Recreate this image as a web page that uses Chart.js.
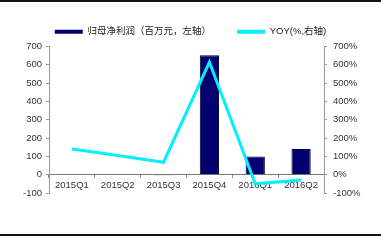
<!DOCTYPE html>
<html><head><meta charset="utf-8">
<script src="https://cdn.jsdelivr.net/npm/chart.js@4.4.0/dist/chart.umd.min.js"></script>
<style>
html,body{margin:0;padding:0;background:#fff;}
#wrap{position:relative;width:381px;height:240px;overflow:hidden;}
.rule{position:absolute;left:0;width:381px;height:2px;background:#111;}
canvas{display:block;}
</style></head><body>
<div id="wrap"><canvas id="c" width="381" height="240"></canvas><div class="rule" style="top:0"></div><div class="rule" style="top:234px"></div></div>
<script>
const categories = ['2015Q1','2015Q2','2015Q3','2015Q4','2016Q1','2016Q2'];
const netProfit = [3, 3, -4, 652, 100, 140];
const yoyPct = [140, 105, 68, 615, -50, -29];
const seriesNames = ['归母净利润（百万元，左轴）', 'YOY(%,右轴)'];
const axisMin = -100, axisMax = 700, axisStep = 100;

const FONT = '"Liberation Sans", Arial, "Noto Sans CJK SC", sans-serif';
const NAVY = '#000070', CYAN = '#00f0ff';

new Chart(document.getElementById('c'), {
  data: {
    labels: categories,
    datasets: [
      { type: 'bar', label: seriesNames[0], data: netProfit, yAxisID: 'y',
        backgroundColor: NAVY, borderColor: '#000030', borderWidth: 1,
        barPercentage: 0.42, categoryPercentage: 1, order: 1, legendColor: NAVY },
      { type: 'line', label: seriesNames[1], data: yoyPct, yAxisID: 'y1',
        borderColor: CYAN, backgroundColor: CYAN, borderWidth: 3, pointRadius: 0,
        tension: 0, order: 0, legendColor: CYAN }
    ]
  },
  options: {
    responsive: false, animation: false,
    layout: { padding: { top: 1, bottom: 47, left: 0, right: 0 } },
    plugins: {
      tooltip: { enabled: false },
      legend: {
        position: 'top',
        labels: {
          font: { family: FONT, size: 9.5 }, color: '#222',
          boxWidth: 28, boxHeight: 4, padding: 26,
          sort: (a, b) => a.datasetIndex - b.datasetIndex,
          generateLabels: (chart) => chart.data.datasets.map((ds, i) => ({
            text: ds.label, fillStyle: ds.legendColor, strokeStyle: ds.legendColor,
            lineWidth: 0, hidden: false, datasetIndex: i, fontColor: '#222'
          }))
        }
      }
    },
    scales: {
      x: {
        position: { y: 0 },
        grid: { display: true, drawOnChartArea: false, drawTicks: true, tickLength: 3, color: '#888', offset: true },
        border: { display: true, color: '#777', width: 1 },
        ticks: { font: { family: FONT, size: 9.5 }, color: '#333', padding: 2, maxRotation: 0, autoSkip: false }
      },
      y: {
        position: 'left', min: axisMin, max: axisMax,
        afterFit: (s) => { s.width = 49; },
        grid: { display: true, drawOnChartArea: false, drawTicks: true, tickLength: 3, color: '#999' },
        border: { display: true, color: '#999', width: 1 },
        ticks: { stepSize: axisStep, font: { family: FONT, size: 9.5 }, color: '#333', padding: 4 }
      },
      y1: {
        position: 'right', min: axisMin, max: axisMax,
        afterFit: (s) => { s.width = 57; },
        grid: { display: true, drawOnChartArea: false, drawTicks: true, tickLength: 3, color: '#999' },
        border: { display: true, color: '#999', width: 1 },
        ticks: { stepSize: axisStep, font: { family: FONT, size: 9.5 }, color: '#333', padding: 6,
          callback: (v) => v + '%' }
      }
    }
  }
});
</script>
</body></html>
